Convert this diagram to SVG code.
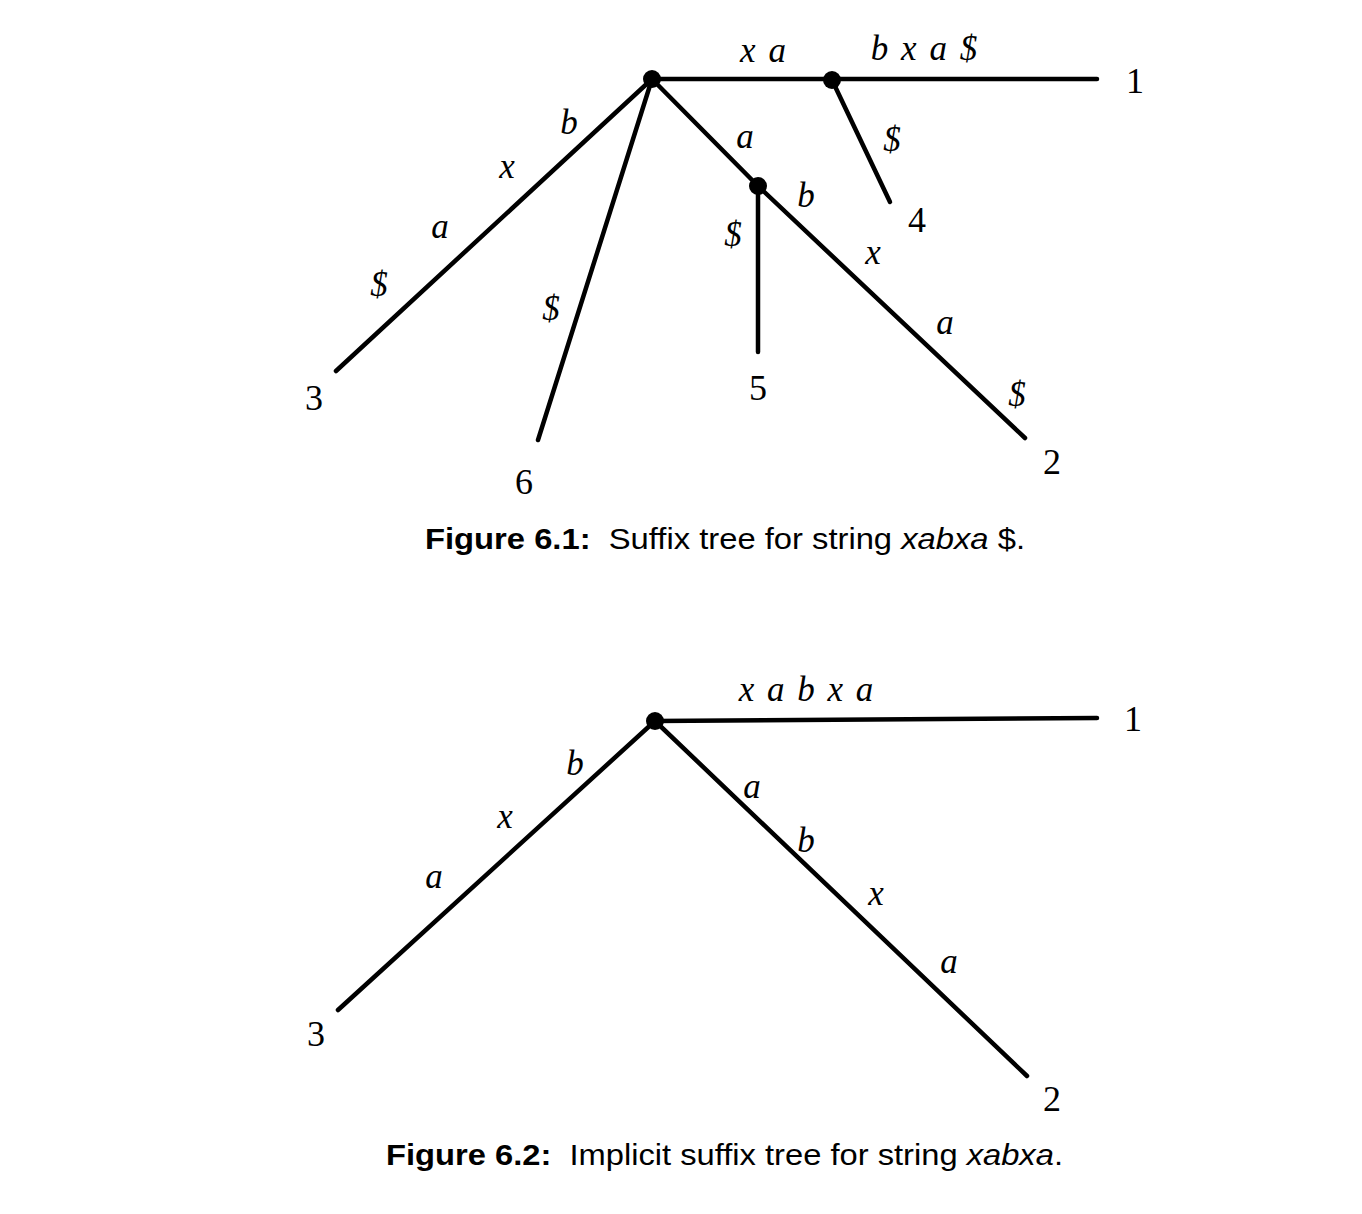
<svg xmlns="http://www.w3.org/2000/svg" width="1362" height="1214" viewBox="0 0 1362 1214">
<style>
.e{stroke:#000;stroke-width:4.5;fill:none;stroke-linecap:round}
.n{fill:#000}
.l{font-family:"Liberation Serif",serif;font-style:italic;font-size:35px;fill:#000;text-anchor:middle}
.w{word-spacing:4px}
.d{font-family:"Liberation Serif",serif;font-size:36px;fill:#000;text-anchor:middle}
.c{font-family:"Liberation Sans",Arial,sans-serif;font-size:30px;fill:#000}
</style>
<rect width="1362" height="1214" fill="#fff"/>
<g id="connectors">
<line class="e" x1="652" y1="79" x2="1097" y2="79"/>
<line class="e" x1="832" y1="80" x2="890" y2="202"/>
<line class="e" x1="652" y1="79" x2="336" y2="371"/>
<line class="e" x1="652" y1="79" x2="538" y2="440"/>
<line class="e" x1="652" y1="79" x2="758" y2="186"/>
<line class="e" x1="758" y1="186" x2="1025" y2="438"/>
<line class="e" x1="758" y1="186" x2="758" y2="352"/>
<line class="e" x1="655" y1="721" x2="1097" y2="718"/>
<line class="e" x1="655" y1="721" x2="338" y2="1010"/>
<line class="e" x1="655" y1="721" x2="1027" y2="1076"/>
</g>
<g id="tree1-root"><circle class="n" cx="652" cy="79" r="9"/></g>
<g id="tree1-node-xa"><circle class="n" cx="832" cy="80" r="9"/></g>
<g id="tree1-node-a"><circle class="n" cx="758" cy="186" r="9"/></g>
<g id="tree1-leaf1"><text class="d" x="1135" y="93">1</text></g>
<g id="tree1-leaf2"><text class="d" x="1052" y="474">2</text></g>
<g id="tree1-leaf3"><text class="d" x="314" y="410">3</text></g>
<g id="tree1-leaf4"><text class="d" x="917" y="232">4</text></g>
<g id="tree1-leaf5"><text class="d" x="758" y="400">5</text></g>
<g id="tree1-leaf6"><text class="d" x="524" y="494">6</text></g>
<g id="tree1-labels">
<text class="l w" x="763" y="62">x a</text>
<text class="l w" x="924" y="60">b x a $</text>
<text class="l" x="569" y="134">b</text>
<text class="l" x="507" y="178">x</text>
<text class="l" x="440" y="238">a</text>
<text class="l" x="379" y="296">$</text>
<text class="l" x="551" y="320">$</text>
<text class="l" x="745" y="148">a</text>
<text class="l" x="892" y="151">$</text>
<text class="l" x="806" y="207">b</text>
<text class="l" x="733" y="246">$</text>
<text class="l" x="873" y="264">x</text>
<text class="l" x="945" y="334">a</text>
<text class="l" x="1017" y="406">$</text>
</g>
<text class="c" x="425" y="549" textLength="600" lengthAdjust="spacingAndGlyphs" xml:space="preserve"><tspan font-weight="bold">Figure 6.1:</tspan>  Suffix tree for string <tspan font-style="italic">xabxa</tspan> $.</text>
<g id="tree2-root"><circle class="n" cx="655" cy="721" r="9"/></g>
<g id="tree2-leaf1"><text class="d" x="1133" y="731">1</text></g>
<g id="tree2-leaf2"><text class="d" x="1052" y="1111">2</text></g>
<g id="tree2-leaf3"><text class="d" x="316" y="1046">3</text></g>
<g id="tree2-labels">
<text class="l w" x="806" y="701">x a b x a</text>
<text class="l" x="575" y="775">b</text>
<text class="l" x="505" y="828">x</text>
<text class="l" x="434" y="888">a</text>
<text class="l" x="752" y="798">a</text>
<text class="l" x="806" y="852">b</text>
<text class="l" x="876" y="905">x</text>
<text class="l" x="949" y="973">a</text>
</g>
<text class="c" x="386" y="1165" textLength="677" lengthAdjust="spacingAndGlyphs" xml:space="preserve"><tspan font-weight="bold">Figure 6.2:</tspan>  Implicit suffix tree for string <tspan font-style="italic">xabxa</tspan>.</text>
</svg>
